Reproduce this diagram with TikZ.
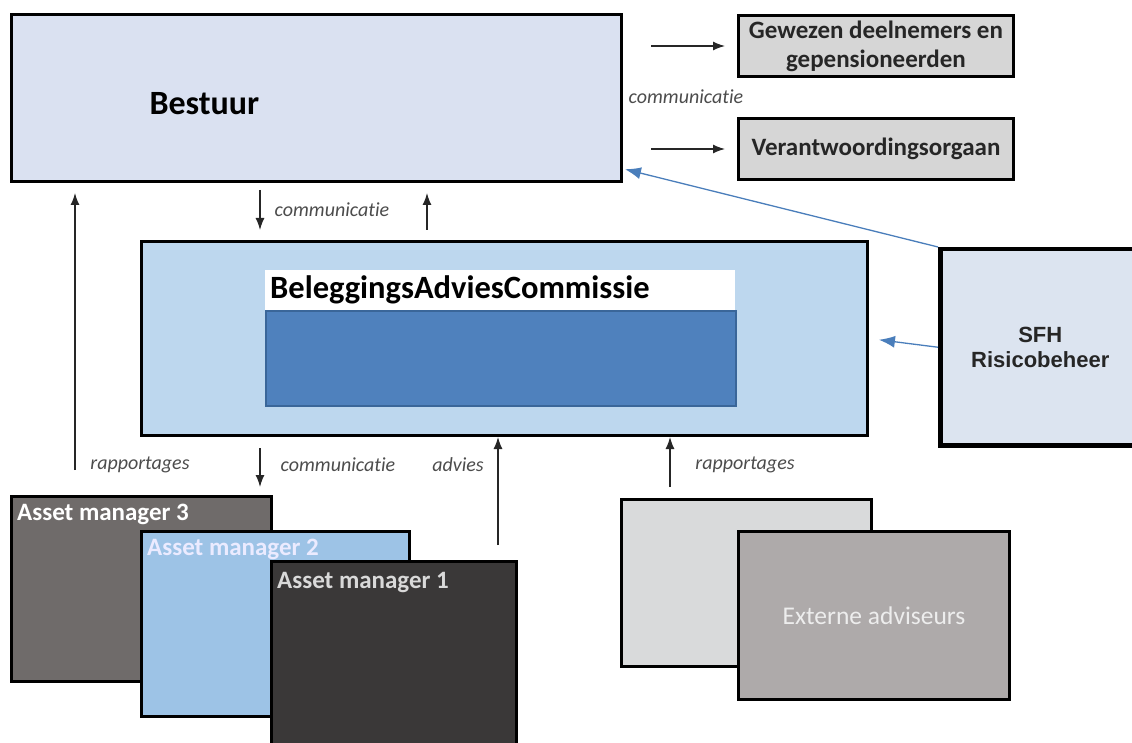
\documentclass[tikz,border=0pt]{standalone}
\usepackage{fontspec}
\setmainfont{Carlito}[Ligatures=NoCommon]
\newfontfamily\arialfont{Liberation Sans}
\usepackage{tikz}
\usetikzlibrary{positioning,arrows.meta}

\definecolor{bestuurfill}{HTML}{DAE1F1}
\definecolor{greybox}{HTML}{D6D6D6}
\definecolor{bacfill}{HTML}{BDD7EE}
\definecolor{bacdark}{HTML}{4F81BD}
\definecolor{bacedge}{HTML}{3A6699}
\definecolor{sfhfill}{HTML}{DCE4F0}
\definecolor{am3fill}{HTML}{6F6B6A}
\definecolor{am2fill}{HTML}{9DC3E6}
\definecolor{am1fill}{HTML}{3A3838}
\definecolor{extback}{HTML}{D9DADB}
\definecolor{extfront}{HTML}{AEAAAA}
\definecolor{bluearrow}{HTML}{4A7EBB}

\tikzset{
    box/.style={draw=black, line width=3pt, inner sep=0pt, anchor=north west},
    arr/.style={-{Latex[length=12pt,width=9pt]}, line width=1.3pt, black!85},
    bluearr/.style={-{Latex[length=16pt,width=12pt]}, line width=1.3pt, bluearrow},
    comm/.style={font=\itshape\fontsize{20}{23}\selectfont, text=black!70},
    amtext/.style={font=\bfseries\fontsize{25}{28}\selectfont, inner sep=0pt}
}

\begin{document}
\begin{tikzpicture}[x=1pt, y=-1pt]
    \useasboundingbox (0,0) rectangle (1132,743);

    % bestuur and the boxes to the right of it
    \node[box, fill=bestuurfill, minimum width=610pt, minimum height=167pt] (bestuur) at (10,13) {};
    \node[font=\bfseries\fontsize{34}{38}\selectfont, right=136pt of bestuur.west, yshift=-6pt] (bestuurlbl) {Bestuur};
    \node[box, fill=greybox, minimum width=275pt, minimum height=61pt, align=center,
        font=\bfseries\fontsize{25}{29}\selectfont, text=black!85] (gewezen) at (737,14) {Gewezen deelnemers en\\gepensioneerden};
    \node[box, fill=greybox, minimum width=275pt, minimum height=61pt,
        font=\bfseries\fontsize{25}{29}\selectfont, text=black!85] (verantw) at (737,117) {Verantwoordingsorgaan};
    \draw[arr, shorten <=28pt, shorten >=12pt] (bestuur.east |- gewezen.west) -- (gewezen.west);
    \draw[arr, shorten <=28pt, shorten >=12pt] (bestuur.east |- verantw.west) -- (verantw.west);
    \node[comm] (commtop) at (686,97) {communicatie};

    % beleggingsadviescommissie
    \node[box, fill=bacfill, minimum width=726pt, minimum height=194pt] (bac) at (140,240) {};
    \node[anchor=north west, fill=white, text width=460pt, minimum height=40pt, inner xsep=5pt, inner ysep=0pt,
        font=\bfseries\fontsize{32.5}{36}\selectfont] (baclbl) at (265,270) {BeleggingsAdviesCommissie};
    \node[anchor=north west, fill=bacdark, draw=bacedge, line width=2pt, inner sep=0pt,
        minimum width=470pt, minimum height=95pt] (bacbox) at (265,310) {};
    \draw[arr, shorten <=7pt, shorten >=10pt] (260,0 |- bestuur.south) -- (260,0 |- bac.north);
    \draw[arr, shorten <=10pt, shorten >=10pt] (427,0 |- bac.north) -- (427,0 |- bestuur.south);
    \node[comm] (commmid) at (332,210) {communicatie};

    % risicobeheer
    \node[box, line width=4.5pt, fill=sfhfill, minimum width=200pt, minimum height=196pt, align=center,
        font=\arialfont\bfseries\fontsize{22}{25}\selectfont, text=black!85] (sfh) at (938,247) {SFH\\Risicobeheer};
    \draw[bluearr, shorten >=2pt] (sfh.north west) -- (bestuur.-13);
    \draw[bluearr, shorten >=10pt] (sfh.west) -- (bac.east);

    % asset managers
    \node[box, fill=am3fill, minimum width=260pt, minimum height=185pt] (am3) at (10,495) {};
    \node[amtext, text=white, below right=9pt and 7pt of am3.north west] (am3lbl) {Asset manager 3};
    \node[box, fill=am2fill, minimum width=268pt, minimum height=185pt] (am2) at (140,530) {};
    \node[amtext, text=blue!8, below right=9pt and 7pt of am2.north west] (am2lbl) {Asset manager 2};
    \node[box, fill=am1fill, minimum width=245pt, minimum height=200pt] (am1) at (270,560) {};
    \node[amtext, text=black!15, below right=12pt and 7pt of am1.north west] (am1lbl) {Asset manager 1};

    % externe adviseurs
    \node[box, fill=extback, minimum width=250pt, minimum height=167pt] (extback) at (620,498) {};
    \node[box, fill=extfront, minimum width=271pt, minimum height=168pt,
        font=\fontsize{25.5}{28}\selectfont, text=black!7] (extfront) at (737,530) {Externe adviseurs};

    \draw[arr, shorten <=25pt, shorten >=10pt] (75,0 |- am3.north) -- (75,0 |- bestuur.south);
    \draw[arr, shorten <=11pt, shorten >=8pt] (260,0 |- bac.south) -- (260,0 |- am3.north);
    \draw[arr, shorten <=15pt] (498,0 |- am1.north) -- (498,0 |- bac.south);
    \draw[arr, shorten <=11pt] (670,0 |- extback.north) -- (670,0 |- bac.south);
    \node[comm] (rapleft) at (140,465) {rapportages};
    \node[comm] (commlow) at (338,465) {communicatie};
    \node[comm] (advies) at (458,465) {advies};
    \node[comm] (rapright) at (745,465) {rapportages};
\end{tikzpicture}
\end{document}
